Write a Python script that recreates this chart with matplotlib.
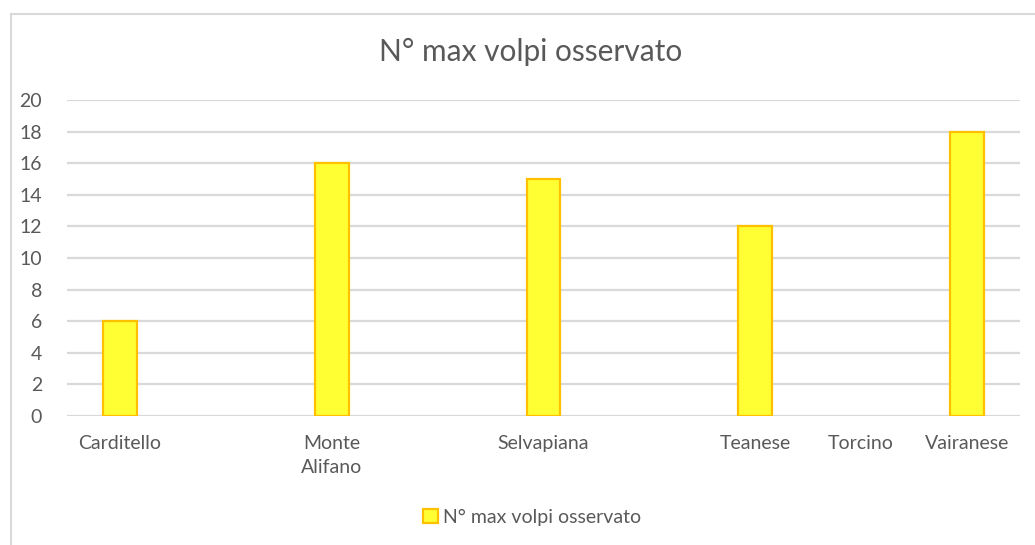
import numpy as np
import matplotlib
matplotlib.use("Agg")
import matplotlib.pyplot as plt
from matplotlib.patches import Patch
from matplotlib.lines import Line2D

# Data
sites = ["Carditello", "", "Monte\nAlifano", "", "Selvapiana", "", "Teanese", "Torcino", "Vairanese"]
max_foxes = [6, np.nan, 16, np.nan, 15, np.nan, 12, np.nan, 18]
series_name = "N° max volpi osservato"
y_ticks = [0, 2, 4, 6, 8, 10, 12, 14, 16, 18, 20]

TEXT = "#595959"
GRID = "#D9D9D9"
FILL = "#FFFF33"
EDGE = "#FFC000"
FONT = "Lato"
TICK_SIZE = 14

fig = plt.figure(figsize=(10.35, 5.45), dpi=100)
fig.patch.set_facecolor("white")

# chart frame (partially outside the canvas)
W, H = 1035, 545
fig.add_artist(Line2D([10.5 / W, 10.5 / W], [0, 1 - 13.5 / H], transform=fig.transFigure,
                      color=GRID, lw=1.5))
fig.add_artist(Line2D([10.5 / W, 1], [1 - 13.5 / H, 1 - 13.5 / H], transform=fig.transFigure,
                      color=GRID, lw=1.5))

ax = fig.add_axes([67 / W, 1 - 416 / H, (1020 - 67) / W, (416 - 100) / H])
x = np.arange(len(sites))
ax.bar(x, max_foxes, width=0.32, color=FILL, edgecolor=EDGE, linewidth=1.6,
       label=series_name, zorder=3)

ax.set_xlim(-0.5, len(sites) - 0.5)
ax.set_ylim(0, 20)
ax.set_yticks(y_ticks)
ax.set_yticklabels([str(v) for v in y_ticks], fontsize=TICK_SIZE, color=TEXT, family=FONT)
ax.set_xticks(x)
ax.set_xticklabels(sites, fontsize=TICK_SIZE, color=TEXT, family=FONT, linespacing=1.5)
ax.tick_params(axis="both", length=0)
ax.tick_params(axis="x", pad=14)
ax.tick_params(axis="y", pad=18)
for lbl in ax.get_yticklabels():
    lbl.set_horizontalalignment("right")

ax.grid(axis="y", color=GRID, linewidth=1.6, zorder=0)
ax.grid(axis="x", visible=False)
for s in ax.spines.values():
    s.set_visible(False)

fig.text(530.5 / W, 1 - 52 / H, series_name, ha="center", va="center",
         fontsize=21.5, color=TEXT, family=FONT)

handle = Patch(facecolor=FILL, edgecolor=EDGE, linewidth=1.6)
fig.legend([handle], [series_name], loc="center", bbox_to_anchor=(532 / W, 1 - 517 / H),
           frameon=False, prop={"family": FONT, "size": TICK_SIZE}, labelcolor=TEXT,
           handlelength=0.75, handleheight=0.75, handletextpad=0.25)

fig.savefig("out.png", dpi=100, facecolor="white")
